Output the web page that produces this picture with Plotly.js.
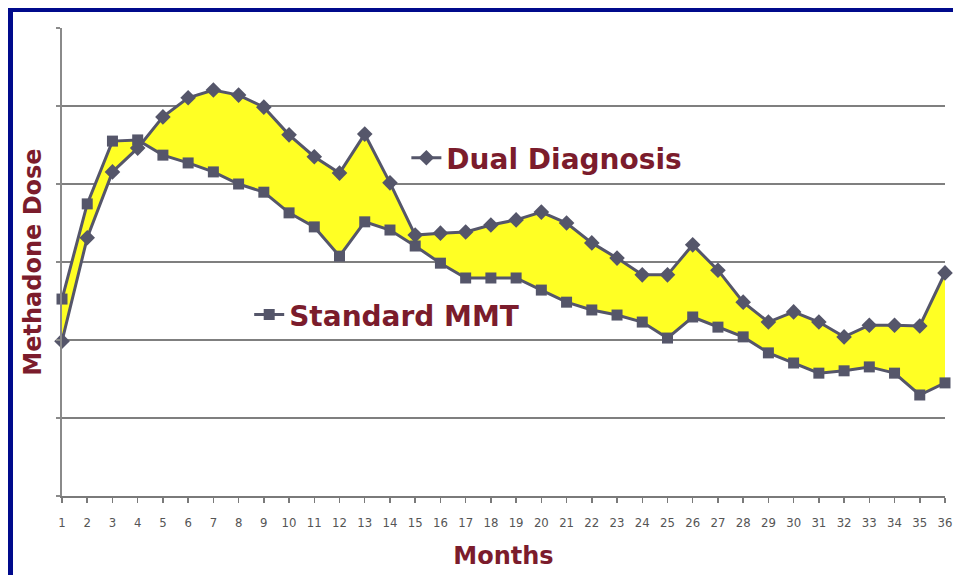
<!DOCTYPE html>
<html>
<head>
<meta charset="utf-8">
<script src="https://cdn.plot.ly/plotly-3.0.1.min.js"></script>
<style>
html,body{margin:0;padding:0;background:#fff;}
#wrap{position:relative;width:953px;height:575px;}
#chart{position:absolute;left:0;top:0;width:953px;height:575px;}
#frame{position:absolute;left:8px;top:8px;right:0;bottom:0;border-top:4px solid #000a8c;border-left:5px solid #000a8c;pointer-events:none;}
</style>
</head>
<body>
<div id="wrap"><div id="chart"></div><div id="frame"></div></div>
<script>
const months = [1,2,3,4,5,6,7,8,9,10,11,12,13,14,15,16,17,18,19,20,21,22,23,24,25,26,27,28,29,30,31,32,33,34,35,36];
const tickLabels = months.map(String);
const dualDiagnosis = [39.7,66.2,83.1,89.2,97.2,102.1,104.1,102.8,99.7,92.6,87.0,82.8,92.8,80.3,66.9,67.4,67.7,69.5,70.8,72.8,70.0,64.9,61.0,56.7,56.7,64.4,57.9,49.7,44.6,47.2,44.6,40.8,43.8,43.8,43.6,57.2];
const standardMMT = [50.5,74.9,91.0,91.3,87.4,85.4,83.1,80.0,77.9,72.6,69.0,61.5,70.3,68.2,64.1,59.7,55.9,55.9,55.9,52.8,49.7,47.7,46.4,44.6,40.5,45.9,43.3,40.8,36.7,34.1,31.5,32.1,33.1,31.5,25.9,29.0];

const lineColor = '#55566a';
const textRed = '#7b1c2c';
const boldFamily = 'DejaVu Sans, Verdana, sans-serif';

const traces = [
  {x: months, y: standardMMT, type:'scatter', mode:'lines', line:{width:0, color:'rgba(0,0,0,0)'}, showlegend:false, hoverinfo:'skip'},
  {x: months, y: dualDiagnosis, type:'scatter', mode:'lines', fill:'tonexty', fillcolor:'#ffff24', line:{width:0, color:'rgba(0,0,0,0)'}, showlegend:false, hoverinfo:'skip'},
  {x: months, y: standardMMT, name:'Standard MMT', type:'scatter', mode:'lines+markers',
   line:{color:lineColor, width:3}, marker:{symbol:'square', size:11, color:lineColor}, legend:'legend2', cliponaxis:false},
  {x: months, y: dualDiagnosis, name:'Dual Diagnosis', type:'scatter', mode:'lines+markers',
   line:{color:lineColor, width:3}, marker:{symbol:'diamond', size:12, color:lineColor}, legend:'legend', cliponaxis:false}
];

const legendFont = {family:boldFamily, size:28, color:textRed, weight:'bold'};

const layout = {
  width:953, height:575,
  margin:{l:62, r:8, t:28, b:79},
  paper_bgcolor:'#ffffff', plot_bgcolor:'#ffffff',
  showlegend:true,
  legend:{x:0.39, y:0.722, xanchor:'left', yanchor:'middle', bgcolor:'rgba(0,0,0,0)', borderwidth:0, font:legendFont, itemwidth:30},
  legend2:{x:0.212, y:0.387, xanchor:'left', yanchor:'middle', bgcolor:'rgba(0,0,0,0)', borderwidth:0, font:legendFont, itemwidth:30},
  xaxis:{
    range:[1,36], tickmode:'array', tickvals:months, ticktext:tickLabels,
    showgrid:false, zeroline:false, showline:true, linecolor:'#7a7a7a', linewidth:2,
    ticks:'outside', ticklen:5, tickwidth:1.5, tickcolor:'#7a7a7a', ticklabelstandoff:8,
    tickfont:{family:'DejaVu Sans Condensed, Liberation Sans Narrow, sans-serif', size:13, color:'#555'},
    title:{text:'Months', font:{family:boldFamily, size:24, color:textRed, weight:'bold'}, standoff:19},
    fixedrange:true
  },
  yaxis:{
    range:[0,120], dtick:20, showticklabels:false,
    showgrid:true, gridcolor:'#7f7f7f', gridwidth:2, zeroline:false,
    showline:true, linecolor:'#8a8a8a', linewidth:2,
    ticks:'outside', ticklen:4, tickwidth:1.5, tickcolor:'#8a8a8a',
    title:{text:'Methadone Dose', font:{family:boldFamily, size:24, color:textRed, weight:'bold'}, standoff:8},
    fixedrange:true
  }
};

Plotly.newPlot('chart', traces, layout, {displayModeBar:false, staticPlot:true});
</script>
</body>
</html>
